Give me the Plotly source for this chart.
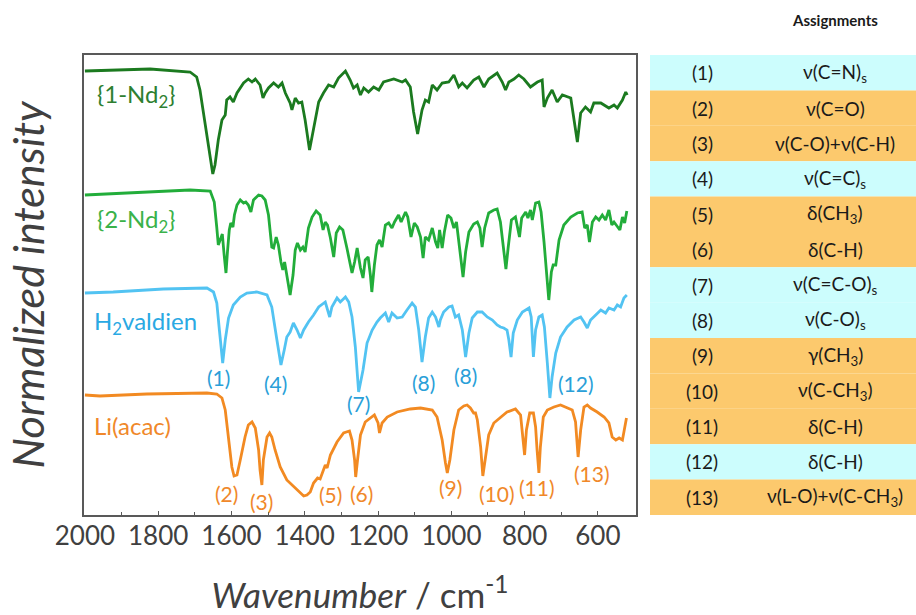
import plotly.graph_objects as go

# ---------------- data (wavenumber / cm-1, normalized intensity a.u., offset stacked) -------------
nd1_wn = [2000,1822,1713,1695,1686,1672,1658,1651,1645,1636,1626,1617,1613,1604,1595,1585,1567,1554,1544,1535,
          1522,1514,1508,1499,1485,1472,1462,1453,1440,1435,1426,1417,1408,1399,1387,1376,1362,1349,1335,1321,
          1308,1289,1276,1267,1257,1248,1239,1226,1212,1198,1185,1157,1134,1125,1112,1103,1092,1080,1071,1062,
          1052,1039,1025,1007,993,980,970,957,939,925,911,898,875,861,852,843,829,816,802,784,765,752,747,738,
          725,711,697,674,661,656,647,634,620,611,592,570,556,547,533,524,520]
nd1_y = [444,446,443,438,425,392,355,341,350,375,395,400,415,418,413,422,432,436,433,436,
         430,417,422,427,432,428,432,422,412,405,417,412,413,395,365,388,413,422,430,428,
         437,444,435,427,430,420,427,423,428,425,433,436,433,435,428,403,381,405,415,413,
         430,425,432,433,440,428,432,427,435,438,428,436,442,433,425,433,436,440,436,428,433,435,408,417,
         425,413,420,417,388,373,402,408,403,412,412,407,410,407,415,423,420]

nd2_wn = [2000,1822,1713,1658,1647,1640,1636,1631,1625,1620,1615,1611,1606,1602,1596,1592,1585,1576,1567,1561,
          1554,1547,1540,1526,1517,1508,1499,1490,1485,1478,1472,1465,1460,1455,1449,1440,1432,1426,1420,1412,
          1405,1399,1390,1380,1369,1358,1350,1344,1338,1330,1321,1314,1305,1296,1285,1278,1271,1264,1257,1248,
          1241,1235,1227,1221,1217,1210,1203,1196,1189,1180,1171,1162,1155,1144,1137,1125,1119,1110,1101,1093,
          1084,1077,1071,1062,1052,1043,1037,1032,1025,1019,1010,1001,993,986,980,973,968,961,952,939,
          929,922,916,909,898,884,875,866,857,851,845,836,825,818,814,808,797,791,784,779,
          770,761,755,747,740,734,727,722,715,706,693,674,656,643,636,629,623,615,606,597,
          588,579,570,562,556,547,540,533,527,521]
nd2_y = [320,323,325,324,313,287,270,275,281,260,242,263,285,292,288,300,310,315,312,313,
         310,303,315,320,319,315,300,268,267,278,270,253,245,253,240,220,240,265,272,265,
         268,263,287,298,304,300,285,293,290,277,258,282,288,285,267,255,242,253,267,247,
         237,255,258,240,223,250,270,275,268,290,292,287,293,300,293,303,298,278,292,288,
         278,257,278,275,287,273,267,285,267,283,300,297,287,293,273,253,238,263,283,291,
         293,287,268,287,302,305,306,293,263,246,267,295,298,287,278,297,303,297,305,295,
         312,313,303,273,243,215,243,250,250,275,290,298,302,303,287,290,273,293,298,295,
         300,295,305,290,293,288,285,298,292,304]

h2v_wn = [2000,1923,1786,1667,1649,1640,1633,1624,1617,1608,1595,1576,1558,1531,1503,1490,1476,1465,1456,1449,
          1440,1431,1421,1412,1403,1390,1376,1362,1344,1332,1326,1312,1303,1289,1280,1271,1262,1253,1241,1230,
          1216,1203,1194,1180,1171,1162,1148,1134,1121,1107,1098,1089,1080,1071,1062,1052,1043,1034,1030,1021,
          1007,998,989,980,970,961,952,943,929,916,902,888,875,866,857,848,843,837,831,820,
          806,788,782,776,770,761,752,746,738,731,725,715,702,684,665,647,638,629,620,606,
          592,579,570,556,547,538,529,521]
h2v_y = [222,223,226,227,223,212,185,152,175,197,210,218,222,223,220,208,175,150,165,178,
         183,192,185,177,185,193,200,208,213,198,208,217,213,218,213,198,168,123,145,172,
         185,193,197,202,193,202,197,198,205,212,208,185,153,178,197,203,198,188,195,203,
         208,209,198,200,185,158,182,197,203,203,198,195,190,188,187,185,175,158,182,195,
         203,207,198,158,185,198,200,188,152,117,138,162,178,188,195,198,193,187,195,200,
         205,202,207,205,210,208,217,220]

li_wn = [2000,1959,1831,1667,1640,1626,1617,1608,1599,1593,1585,1576,1563,1554,1544,1535,1526,1522,1517,1513,
         1503,1496,1490,1481,1467,1449,1421,1403,1394,1385,1376,1365,1358,1350,1344,1339,1330,1312,1294,1278,
         1271,1264,1261,1256,1248,1235,1221,1210,1200,1196,1189,1175,1148,1112,1084,1052,1039,1025,1016,1011,
         1004,993,980,966,957,948,939,934,929,920,914,907,898,884,866,848,825,811,805,800,
         795,786,776,770,766,761,757,749,738,720,702,688,670,661,656,654,647,638,629,620,
         602,583,570,561,551,542,533,529,522]
li_y = [120,119,121,122,121,117,105,75,48,39,40,55,78,90,93,87,65,45,30,55,
        78,82,78,65,48,35,25,19,20,23,32,37,36,45,50,47,60,73,82,84,
        75,55,38,55,80,93,97,100,92,82,92,98,103,106,107,105,98,75,52,42,
        55,85,105,109,110,107,102,102,95,68,39,58,80,92,98,103,106,100,78,60,
        85,102,102,88,65,42,68,98,105,108,110,108,105,93,68,58,85,108,110,107,
        103,98,92,78,75,77,75,82,97]

series_names = ["{1-Nd<sub>2</sub>}", "{2-Nd<sub>2</sub>}", "H<sub>2</sub>valdien", "Li(acac)"]
series_colors = ["#1B7A1F", "#22AD3A", "#52C3F2", "#F28A22"]
label_colors = ["#2E7F31", "#3AB24A", "#2AA9E3", "#F0882A"]
label_pos_wn = [1973, 1973, 1981, 1981]
label_pos_y = [420, 295, 193, 90]

# peak markers
blue_peaks = ["(1)", "(4)", "(7)", "(8)", "(8)", "(12)"]
blue_wn = [1636, 1481, 1253, 1075, 961, 661]
blue_y = [138, 132, 112, 133, 140, 132]
orange_peaks = ["(2)", "(3)", "(5)", "(6)", "(9)", "(10)", "(11)", "(13)"]
orange_wn = [1613, 1517, 1330, 1244, 1002, 875, 766, 615]
orange_y = [22, 14, 21, 22, 28, 22, 28, 42]

# assignment table
tab_num = ["(1)", "(2)", "(3)", "(4)", "(5)", "(6)", "(7)", "(8)", "(9)", "(10)", "(11)", "(12)", "(13)"]
tab_txt = ["ν(C=N)<sub>s</sub>", "ν(C=O)", "ν(C-O)+ν(C-H)", "ν(C=C)<sub>s</sub>", "δ(CH<sub>3</sub>)",
           "δ(C-H)", "ν(C=C-O)<sub>s</sub>", "ν(C-O)<sub>s</sub>", "γ(CH<sub>3</sub>)", "ν(C-CH<sub>3</sub>)",
           "δ(C-H)", "δ(C-H)", "ν(L-O)+ν(C-CH<sub>3</sub>)"]
tab_grp = ["c", "o", "o", "c", "o", "o", "c", "c", "o", "o", "o", "c", "o"]
grp_fill = {"c": "#CCFDFD", "o": "#FCC96D"}

x_ticks = [2000, 1800, 1600, 1400, 1200, 1000, 800, 600]

FONT = "Lato"

fig = go.Figure()
for wn, yv, c in zip([nd1_wn, nd2_wn, h2v_wn, li_wn], [nd1_y, nd2_y, h2v_y, li_y], series_colors):
    fig.add_trace(go.Scatter(x=wn, y=yv, mode="lines", line=dict(color=c, width=2.8),
                             showlegend=False, hoverinfo="skip"))

ann = []
for name, c, xw, yv in zip(series_names, label_colors, label_pos_wn, label_pos_y):
    ann.append(dict(x=xw, y=yv, xref="x", yref="y", text=name, showarrow=False, xanchor="left",
                    yanchor="middle", font=dict(family=FONT, size=24, color=c)))
for t, xw, yv in zip(blue_peaks, blue_wn, blue_y):
    ann.append(dict(x=xw, y=yv, xref="x", yref="y", text=t, showarrow=False,
                    xanchor="center", yanchor="middle",
                    font=dict(family=FONT, size=21, color="#2A9FD8")))
for t, xw, yv in zip(orange_peaks, orange_wn, orange_y):
    ann.append(dict(x=xw, y=yv, xref="x", yref="y", text=t, showarrow=False,
                    xanchor="center", yanchor="middle",
                    font=dict(family=FONT, size=21, color="#F0882A")))

# table geometry in paper units of the plotting area
L, R_, PW, PH = 84, 280, 552, 460
tab_x0 = (650 - L) / PW
tab_x1 = (930 - L) / PW
col1_c = (702 - L) / PW
col2_c = (835 - L) / PW
n = len(tab_num)
rh = 1.0 / n
shapes = []
for i, (num, txt, g) in enumerate(zip(tab_num, tab_txt, tab_grp)):
    top = 1 - i * rh
    shapes.append(dict(type="rect", xref="paper", yref="paper", x0=tab_x0, x1=tab_x1,
                       y0=top - rh, y1=top, fillcolor=grp_fill[g], line=dict(width=0), layer="below"))
    ann.append(dict(x=col1_c, y=top - rh / 2, xref="paper", yref="paper", text=num, showarrow=False,
                    xanchor="center", yanchor="middle",
                    font=dict(family=FONT, size=19, color="#1A1A1A")))
    ann.append(dict(x=col2_c, y=top - rh / 2, xref="paper", yref="paper", text=txt, showarrow=False,
                    xanchor="center", yanchor="middle",
                    font=dict(family=FONT, size=19, color="#1A1A1A")))
ann.append(dict(x=col2_c, y=(515 - 20) / PH, xref="paper", yref="paper", text="<b>Assignments</b>",
                showarrow=False, xanchor="center", yanchor="middle",
                font=dict(family=FONT, size=15, color="#1A1A1A")))

fig.update_layout(
    width=916, height=615, template="none",
    margin=dict(l=L, r=R_, t=55, b=100, pad=0),
    paper_bgcolor="white", plot_bgcolor="white",
    annotations=ann, shapes=shapes,
    xaxis=dict(range=[2002.5, 496], tickvals=x_ticks, ticks="inside", ticklen=4, tickwidth=1.2,
               tickcolor="#595959", showline=True, mirror=True, linecolor="#595959", linewidth=1.5,
               showgrid=False, zeroline=False, automargin=False, ticklabelstandoff=-3,
               tickfont=dict(family=FONT, size=26, color="#404040"),
               minor=dict(tickvals=[1900, 1700, 1500, 1300, 1100, 900, 700], ticks="inside",
                          ticklen=3, tickcolor="#595959", tickwidth=1.2),
               title=dict(text="<i>Wavenumber</i> / cm<sup>-1</sup>", standoff=36,
                          font=dict(family=FONT, size=35, color="#404040"))),
    yaxis=dict(range=[0, 460], showticklabels=False, ticks="", showline=True, mirror=True,
               linecolor="#595959", linewidth=1.5, showgrid=False, zeroline=False, automargin=False,
               title=dict(text="<i>Normalized intensity</i>", standoff=24,
                          font=dict(family=FONT, size=43, color="#404040"))),
)

fig.write_html("out.html")
